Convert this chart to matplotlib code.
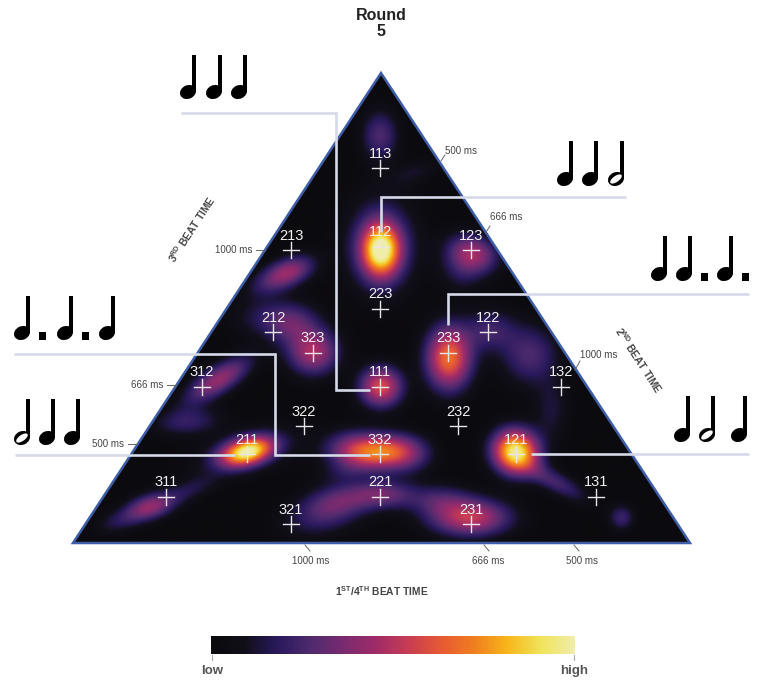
import numpy as np
import matplotlib
matplotlib.use("Agg")
import matplotlib.pyplot as plt
from matplotlib.colors import LinearSegmentedColormap
from matplotlib.patches import Polygon, Ellipse, Rectangle

plt.rcParams['font.family'] = ['Liberation Sans', 'DejaVu Sans']
plt.rcParams['mathtext.fontset'] = 'custom'
plt.rcParams['mathtext.rm'] = 'Liberation Sans'
plt.rcParams['mathtext.bf'] = 'Liberation Sans:bold'

# ---- data (pixel space of the figure) ----
title_lines = ["Round", "5"]
rhythm_labels = ["113", "213", "112", "123", "223", "212", "323", "233", "122", "312", "111",
                 "132", "322", "232", "211", "332", "121", "311", "221", "131", "321", "231"]
rhythm_x = [380, 291, 381, 471, 380, 273, 313, 448, 488, 202, 380,
            561, 304, 458, 247, 380, 516, 166, 380, 596, 291, 471]
rhythm_y = [168, 250, 247, 250, 309, 332, 353, 353, 332, 387, 387,
            387, 426, 426, 454, 454, 454, 497, 497, 497, 524, 524]

# density hot spots: centre, height (0-1), spreads, tilt in degrees
blob_x = [381, 381, 380, 415, 473, 462, 290, 268, 273, 313, 292, 449, 490, 530, 552, 381,
          218, 187, 247, 247, 380, 350, 408, 385, 340, 325, 150, 118, 190, 470, 440, 516,
          555, 622, 345]
blob_y = [250, 245, 135, 172, 253, 272, 271, 283, 318, 352, 325, 358, 330, 355, 410, 387,
          380, 422, 452, 452, 452, 450, 455, 495, 500, 515, 507, 522, 490, 518, 500, 452,
          482, 518, 472]
blob_amp = [0.85, 0.27, 0.26, 0.10, 0.42, 0.14, 0.38, 0.15, 0.18, 0.46, 0.18, 0.68, 0.22,
            0.26, 0.13, 0.58, 0.42, 0.20, 0.85, 0.18, 0.62, 0.24, 0.18, 0.28, 0.20, 0.20,
            0.40, 0.14, 0.13, 0.52, 0.20, 0.95, 0.24, 0.22, 0.08]
blob_sx = [13, 25, 13, 18, 18, 16, 18, 18, 28, 18, 18, 16, 18, 20, 13, 15,
           26, 24, 18, 38, 24, 20, 18, 22, 26, 30, 18, 18, 20, 28, 22, 16,
           26, 9, 20]
blob_sy = [18, 34, 18, 8, 13, 15, 10, 10, 14, 16, 14, 22, 15, 21, 22, 14,
           10, 10, 9, 15, 12, 14, 14, 10, 12, 15, 9, 8, 8, 13, 11, 15,
           8, 9, 8]
blob_tilt = [0, 0, 0, -20, 15, 0, -20, -20, 0, 0, 0, 0, 0, 0, 0, 0,
             -32, -5, -15, -15, 0, 0, 0, 0, -10, -15, -15, -15, -20, 0, 0, 25,
             28, 0, -10]

cmap_colors = ["#0b0a0e", "#110f19", "#2a1a5e", "#4f2a6e", "#7a2b70", "#a02c68", "#c93e52",
               "#e85b33", "#f0801f", "#f9b71b", "#f0e45a", "#f1edaa"]

tick_labels = ["500 ms", "666 ms", "1000 ms", "1000 ms", "666 ms", "500 ms", "1000 ms", "666 ms", "500 ms"]
tick_label_x = [461, 506, 599, 234, 147, 108, 311, 488, 582]
tick_label_y = [151, 217, 355, 250, 385, 444, 561, 561, 561]
tick_x0 = [441, 486, 575, 256, 167, 128, 305, 484, 574]
tick_x1 = [445, 490, 580, 265, 176, 137, 310, 489, 579]
tick_y0 = [161, 232, 370, 250, 385, 444, 545, 545, 545]
tick_y1 = [155, 226, 361, 250, 385, 444, 551, 551, 551]

# notes: q quarter, h half, d dotted quarter
note_rhythms = ["qqq", "qqh", "qdd", "ddq", "hqq", "qhq"]
note_heads = [[188, 214, 239], [565, 590, 616], [659, 684, 725], [22, 65, 107], [22, 47, 72], [682, 707, 739]]
note_base = [92, 179, 274, 333, 438, 435]
note_top = [55, 141, 236, 296, 399, 396]

leader_x = [[181, 336, 336, 370], [626, 381, 381], [749, 448, 448], [14, 275, 275, 370],
            [15, 235], [749, 531]]
leader_y = [[113, 113, 390, 390], [197, 197, 232], [294, 294, 325], [354, 354, 455, 455],
            [455, 455], [454, 454]]

apex_x, apex_y = 381, 73
left_x, right_x, base_y = 73, 690, 543

# ---- figure ----
fig = plt.figure(figsize=(7.62, 6.8), dpi=100)
ax = fig.add_axes([0, 0, 1, 1])
ax.axis("off")

cmap = LinearSegmentedColormap.from_list("heat", cmap_colors)

gx, gy = np.meshgrid(np.arange(left_x, right_x + 1), np.arange(apex_y, base_y + 1))
field = np.zeros_like(gx, dtype=float)
for x0, y0, a, sx, sy, t in zip(blob_x, blob_y, blob_amp, blob_sx, blob_sy, blob_tilt):
    th = np.deg2rad(t)
    u = (gx - x0) * np.cos(th) + (gy - y0) * np.sin(th)
    v = -(gx - x0) * np.sin(th) + (gy - y0) * np.cos(th)
    field += a * np.exp(-0.5 * ((u / sx) ** 2 + (v / sy) ** 2))
field = np.clip(field, 0, 1)

tri_xy = [(apex_x, apex_y), (left_x, base_y), (right_x, base_y)]
im = ax.imshow(field, cmap=cmap, vmin=0, vmax=1, extent=(left_x, right_x, base_y, apex_y),
               interpolation="bilinear", aspect="auto", zorder=1)
clip = Polygon(tri_xy, closed=True, transform=ax.transData, fc="none", ec="none")
ax.add_patch(clip)
im.set_clip_path(clip)
ax.add_patch(Polygon(tri_xy, closed=True, fc="none", ec="#3f5ea8", lw=1.8, zorder=2, joinstyle="miter"))

# leaders
for xs, ys in zip(leader_x, leader_y):
    ax.plot(xs, ys, color="#d5d9e8", lw=1.9, solid_joinstyle="miter", solid_capstyle="butt", zorder=3)

# crosses and labels
for lab, x, y in zip(rhythm_labels, rhythm_x, rhythm_y):
    ax.plot([x - 8, x + 8], [y, y], color="#e9e6ea", lw=1.0, zorder=4)
    ax.plot([x, x], [y - 8, y + 8], color="#e9e6ea", lw=1.0, zorder=4)
    ax.text(x, y - 14.5, lab, color="#f2f0f2", fontsize=10.5, ha="center", va="center", zorder=5)


# notes
def draw_note(x, base, top, kind):
    ax.add_patch(Rectangle((x + 3.9, top), 3.6, base - top, fc="black", ec="none", zorder=6))
    ax.add_patch(Ellipse((x, base), 16.5, 13.5, angle=-25, fc="black", ec="none", zorder=6))
    if kind == "h":
        ax.add_patch(Ellipse((x, base), 13.5, 6.0, angle=-35, fc="white", ec="none", zorder=7))
    if kind == "d":
        ax.add_patch(Rectangle((x + 16.7, base - 1), 7.5, 7.5, fc="black", ec="none", zorder=6))


for rhythm, heads, base, top in zip(note_rhythms, note_heads, note_base, note_top):
    for kind, x in zip(rhythm, heads):
        draw_note(x, base, top, kind)

# axis ticks
for lab, lx, ly, x0, x1, y0, y1 in zip(tick_labels, tick_label_x, tick_label_y, tick_x0, tick_x1, tick_y0, tick_y1):
    ax.plot([x0, x1], [y0, y1], color="#666666", lw=0.7, zorder=3)
    ax.text(lx, ly, lab, color="#444444", fontsize=7, ha="center", va="center")

# titles
ax.text(381, 15, title_lines[0], fontsize=11.5, fontweight="bold", color="#222222", ha="center", va="center")
ax.text(381, 32, title_lines[1], fontsize=11.5, fontweight="bold", color="#222222", ha="center", va="center")
ax.text(192, 229, r"3$^{\mathbf{RD}}$ BEAT TIME", fontsize=7.4, fontweight="bold", color="#444444",
        rotation=57, ha="center", va="center", rotation_mode="anchor")
ax.text(639, 360, r"2$^{\mathbf{ND}}$ BEAT TIME", fontsize=7.4, fontweight="bold", color="#444444",
        rotation=-57, ha="center", va="center", rotation_mode="anchor")
ax.text(382, 591, r"1$^{\mathbf{ST}}$/4$^{\mathbf{TH}}$ BEAT TIME", fontsize=7.4, fontweight="bold",
        color="#444444", ha="center", va="center")

# colour bar
bar = np.linspace(0, 1, 364)[None, :]
ax.imshow(bar, cmap=cmap, vmin=0, vmax=1, extent=(211, 575, 654, 636), aspect="auto", zorder=1)
ax.plot([212, 212], [655, 660], color="#aaaaaa", lw=0.8)
ax.plot([574, 574], [655, 660], color="#aaaaaa", lw=0.8)
ax.text(212, 671, "low", fontsize=9.5, fontweight="bold", color="#555555", ha="center", va="center")
ax.text(574, 671, "high", fontsize=9.5, fontweight="bold", color="#555555", ha="center", va="center")

ax.set_xlim(0, 762)
ax.set_ylim(680, 0)
fig.savefig("out.png", dpi=100)
